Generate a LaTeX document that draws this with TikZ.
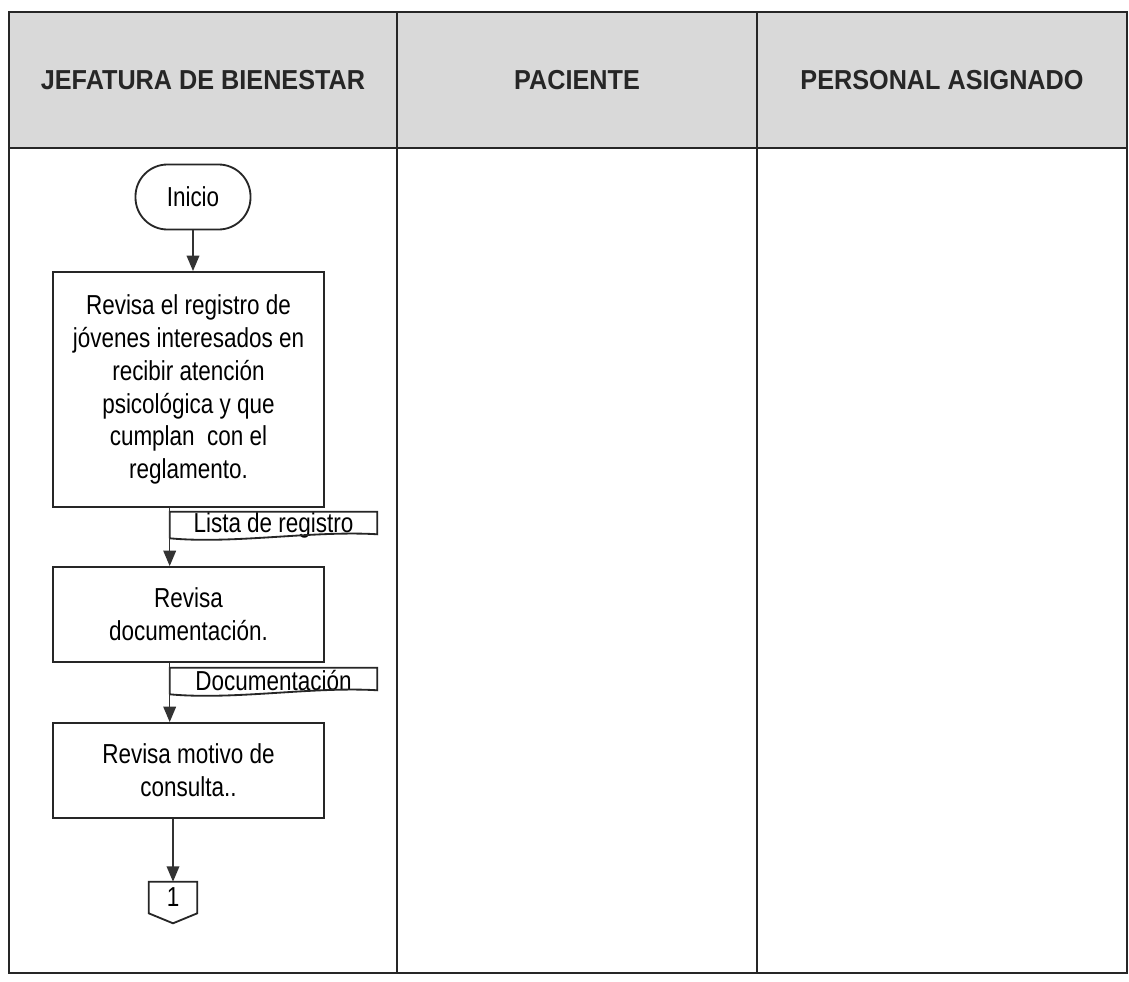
\documentclass[tikz,border=0pt]{standalone}
\usepackage{fontspec}
\setmainfont{Liberation Sans}
\newfontfamily\narrowfont[FakeStretch=0.82]{Liberation Sans}
\newfontfamily\headfont[FakeStretch=0.92]{Liberation Sans}
\usetikzlibrary{arrows.meta}
\tikzset{
  frame/.style={line width=1.6pt, draw=black!85},
  headcell/.style={fill=black!15, draw=none},
  headlabel/.style={font=\headfont\fontsize{19.5}{22}\selectfont\bfseries, text=black!85},
  proceso/.style={draw=black!85, line width=1.3pt, fill=white, minimum width=6.775cm, align=center, inner sep=0pt, font=\narrowfont\fontsize{19.5}{23.4}\selectfont},
  terminal/.style={draw=black!85, line width=1.3pt, rounded corners=0.8cm, minimum width=2.875cm, minimum height=1.625cm, font=\narrowfont\fontsize{19.5}{23.4}\selectfont},
  doclabel/.style={minimum width=5.175cm, minimum height=0.65cm, inner sep=0pt, font=\narrowfont\fontsize{19.5}{23.4}\selectfont},
  docline/.style={draw=black!85, line width=1.3pt, line join=miter},
  pagelabel/.style={minimum width=1.2cm, minimum height=0.775cm, inner sep=0pt, font=\narrowfont\fontsize{19.5}{23.4}\selectfont},
  flecha/.style={draw=black!80, line width=1.1pt, -{Triangle[width=9pt,length=11pt]}},
}

\begin{document}
\begin{tikzpicture}[x=0.025cm, y=-0.025cm]
\useasboundingbox (0,0) rectangle (1129,981);
\fill[white] (0,0) rectangle (1129,981);
% cabecera y carriles
\fill[headcell] (9,12) rectangle (1127,148);
\draw[frame] (9,12) rectangle (1127,973);
\draw[frame] (9,148) -- (1127,148);
\draw[frame] (397,12) -- (397,973);
\draw[frame] (757,12) -- (757,973);
\node[headlabel] (jefatura) at (203,80) {JEFATURA DE BIENESTAR};
\node[headlabel] (paciente) at (577,80) {PACIENTE};
\node[headlabel] (personal) at (942,80) {PERSONAL ASIGNADO};
% flujo
\node[terminal] (inicio) at (193,197) {Inicio};
\node[proceso, minimum height=5.875cm] (registro) at (188.5,389.5) {Revisa el registro de\\jóvenes interesados en\\recibir atención\\psicológica y que\\cumplan\ \ con el\\reglamento.};
\node[proceso, minimum height=2.375cm] (documentos) at (188.5,614.5) {Revisa\\documentación.};
\node[proceso, minimum height=2.375cm] (motivo) at (188.5,770.5) {Revisa motivo de\\consulta..};
\node[doclabel] (lista) at (273.5,525) {Lista de registro};
\node[doclabel] (docum) at (273.5,681) {Documentación};
\node[pagelabel] (uno) at (173,897.5) {1};
\draw[docline] (lista.south west) -- (lista.north west) -- (lista.north east) -- ([yshift=0.1cm]lista.south east)
  .. controls ([xshift=1cm,yshift=0.2cm]lista.south) and ([xshift=-1cm,yshift=-0.15cm]lista.south) .. (lista.south west);
\draw[docline] (docum.south west) -- (docum.north west) -- (docum.north east) -- ([yshift=0.1cm]docum.south east)
  .. controls ([xshift=1cm,yshift=0.2cm]docum.south) and ([xshift=-1cm,yshift=-0.15cm]docum.south) .. (docum.south west);
\draw[docline] (uno.north west) -- (uno.north east) -- (uno.south east) -- ([yshift=-0.25cm]uno.south) -- (uno.south west) -- cycle;
\draw[flecha] (inicio.south) -- (inicio.south |- registro.north);
\draw[flecha] (lista.west |- registro.south) -- (lista.west |- documentos.north);
\draw[flecha] (docum.west |- documentos.south) -- (docum.west |- motivo.north);
\draw[flecha] (uno.north |- motivo.south) -- (uno.north);
\end{tikzpicture}
\end{document}
